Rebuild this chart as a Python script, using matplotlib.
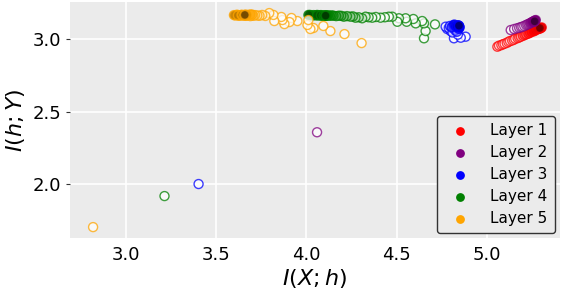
import numpy as np
import matplotlib
matplotlib.use("Agg")
import matplotlib.pyplot as plt
from matplotlib.colors import LinearSegmentedColormap, to_rgb

layers = ["Layer 1", "Layer 2", "Layer 3", "Layer 4", "Layer 5"]
layer_colors = ["red", "purple", "blue", "green", "orange"]

l1_x = [5.059, 5.068, 5.081, 5.090, 5.099, 5.111, 5.120, 5.129, 5.141, 5.150, 5.158, 5.171, 5.180, 5.189, 5.201, 5.210, 5.219, 5.231, 5.240, 5.249, 5.261, 5.270, 5.279, 5.291, 5.300, 5.305, 5.295, 5.285, 5.290, 5.295]
l1_y = [2.947, 2.954, 2.958, 2.964, 2.968, 2.973, 2.980, 2.986, 2.990, 2.995, 3.002, 3.006, 3.011, 3.016, 3.022, 3.028, 3.032, 3.037, 3.043, 3.049, 3.053, 3.059, 3.066, 3.070, 3.075, 3.080, 3.076, 3.072, 3.074, 3.076]

l2_x = [4.059, 5.133, 5.152, 5.168, 5.180, 5.190, 5.198, 5.208, 5.218, 5.225, 5.232, 5.240, 5.245, 5.250, 5.256, 5.262, 5.268, 5.272, 5.265, 5.258, 5.262, 5.266]
l2_y = [2.357, 3.062, 3.069, 3.074, 3.078, 3.082, 3.085, 3.090, 3.096, 3.100, 3.104, 3.108, 3.112, 3.116, 3.120, 3.124, 3.128, 3.131, 3.122, 3.118, 3.120, 3.122]

l3_x = [3.402, 4.883, 4.818, 4.856, 4.840, 4.781, 4.772, 4.800, 4.790, 4.810, 4.825, 4.795, 4.835, 4.815, 4.805, 4.845, 4.830, 4.820, 4.850, 4.840, 4.835, 4.848, 4.845, 4.846]
l3_y = [2.000, 3.016, 3.005, 3.009, 3.030, 3.069, 3.085, 3.055, 3.075, 3.045, 3.060, 3.090, 3.050, 3.095, 3.080, 3.070, 3.085, 3.100, 3.080, 3.095, 3.088, 3.085, 3.092, 3.092]

l4_x = [3.213, 4.652, 4.661, 4.713, 4.652, 4.642, 4.606, 4.593, 4.556, 4.550, 4.513, 4.504, 4.476, 4.457, 4.435, 4.411, 4.385, 4.365, 4.345, 4.328, 4.309, 4.290, 4.272, 4.258, 4.244, 4.225, 4.207, 4.193, 4.180, 4.165, 4.150, 4.140, 4.130, 4.120, 4.112, 4.100, 4.090, 4.080, 4.070, 4.060, 4.050, 4.040, 4.030, 4.020, 4.011, 4.060, 4.080, 4.095, 4.105, 4.110, 4.106]
l4_y = [1.917, 3.005, 3.055, 3.101, 3.108, 3.124, 3.108, 3.138, 3.119, 3.143, 3.143, 3.119, 3.154, 3.154, 3.150, 3.147, 3.152, 3.147, 3.150, 3.154, 3.143, 3.150, 3.147, 3.156, 3.154, 3.158, 3.154, 3.160, 3.161, 3.158, 3.161, 3.163, 3.160, 3.164, 3.161, 3.163, 3.160, 3.165, 3.162, 3.166, 3.163, 3.165, 3.162, 3.166, 3.166, 3.164, 3.163, 3.162, 3.161, 3.162, 3.161]

l5_x = [2.817, 4.306, 4.211, 4.133, 4.094, 4.039, 4.022, 4.006, 4.011, 3.950, 3.917, 3.906, 3.878, 3.867, 3.861, 3.822, 3.817, 3.794, 3.772, 3.755, 3.740, 3.728, 3.715, 3.706, 3.695, 3.689, 3.680, 3.672, 3.700, 3.665, 3.656, 3.690, 3.648, 3.639, 3.630, 3.622, 3.615, 3.606, 3.598, 3.620, 3.640, 3.650, 3.668, 3.660, 3.645, 3.655, 3.662, 3.658]
l5_y = [1.703, 2.972, 3.034, 3.055, 3.090, 3.076, 3.069, 3.097, 3.131, 3.124, 3.145, 3.117, 3.103, 3.131, 3.152, 3.124, 3.166, 3.179, 3.159, 3.166, 3.160, 3.162, 3.165, 3.160, 3.164, 3.158, 3.166, 3.162, 3.168, 3.160, 3.165, 3.170, 3.162, 3.166, 3.160, 3.164, 3.168, 3.162, 3.165, 3.163, 3.166, 3.164, 3.167, 3.165, 3.166, 3.165, 3.167, 3.166]

xs = [l1_x, l2_x, l3_x, l4_x, l5_x]
ys = [l1_y, l2_y, l3_y, l4_y, l5_y]

x_ticks = [3.0, 3.5, 4.0, 4.5, 5.0]
y_ticks = [2.0, 2.5, 3.0]

fig = plt.figure(figsize=(5.66, 2.92), dpi=100)
ax = fig.add_axes([0.124, 0.185, 0.865, 0.808])
ax.set_facecolor("#EBEBEB")
for s in ax.spines.values():
    s.set_visible(False)
ax.grid(True, color="white", linewidth=1.2)
ax.set_axisbelow(True)

for name, col, x, y in zip(layers, layer_colors, xs, ys):
    rgb = np.array(to_rgb(col))
    cmap = LinearSegmentedColormap.from_list(name, [(1, 1, 1), (1, 1, 1), tuple(rgb), tuple(rgb * 0.45)])
    n = len(x)
    order = np.arange(n)
    ax.scatter(x, y, c=order, cmap=cmap, vmin=0, vmax=n - 1, s=42,
               edgecolors=col, linewidths=1.0, alpha=0.75, zorder=3)
    ax.scatter([], [], color=col, s=28, label=name)

ax.set_xlim(2.69, 5.405)
ax.set_ylim(1.628, 3.255)
ax.set_xticks(x_ticks)
ax.set_yticks(y_ticks)
ax.tick_params(axis="both", labelsize=13, length=3, color="#333333", labelcolor="black")
ax.tick_params(axis="x", length=0, pad=6)
ax.set_xlabel(r"$I(X;h)$", fontsize=16, labelpad=2)
ax.set_ylabel(r"$I(h;Y)$", fontsize=16, labelpad=4)

leg = ax.legend(loc="lower right", fontsize=11, frameon=True, facecolor="#EBEBEB",
                edgecolor="#333333", framealpha=1, handletextpad=1.0,
                borderpad=0.5, labelspacing=0.45, borderaxespad=0.3)
leg.get_frame().set_linewidth(1.0)

fig.savefig("out.png", dpi=100)
